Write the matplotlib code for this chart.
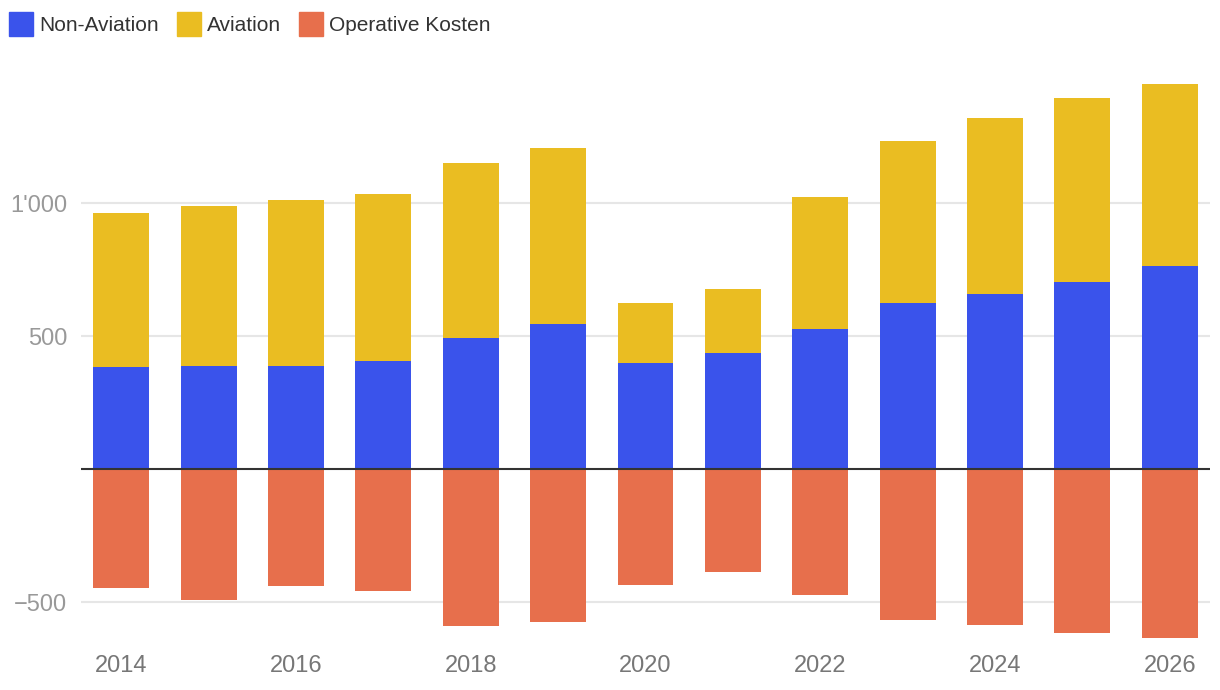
import numpy as np
import matplotlib
matplotlib.use("Agg")
import matplotlib.pyplot as plt
import matplotlib.patches as mpatches

plt.rcParams['font.family'] = ['Liberation Sans', 'DejaVu Sans']

# values
years = [2014, 2015, 2016, 2017, 2018, 2019, 2020, 2021, 2022, 2023, 2024, 2025, 2026]
non_aviation = [385, 389, 389, 408, 494, 547, 400, 438, 528, 623, 657, 702, 762]
aviation = [577, 600, 622, 626, 657, 661, 223, 241, 495, 611, 664, 694, 687]
operative_kosten = [-445, -491, -438, -457, -589, -574, -434, -385, -472, -566, -585, -615, -634]

y_ticks = [-500, 500, 1000]
y_tick_labels = ['\u2212500', '500', "1'000"]
x_ticks = [2014, 2016, 2018, 2020, 2022, 2024, 2026]

c_non = '#3a53eb'
c_avi = '#eabd22'
c_ops = '#e76f4c'

fig = plt.figure(figsize=(12.2, 6.9), dpi=100)
ax = fig.add_axes([0.0664, 0.0652, 0.9254, 0.8334])

x = np.array(years)
w = 0.64
ax.bar(x, non_aviation, width=w, color=c_non, zorder=2)
ax.bar(x, aviation, width=w, bottom=non_aviation, color=c_avi, zorder=2)
ax.bar(x, operative_kosten, width=w, color=c_ops, zorder=2)

for v in y_ticks:
    ax.axhline(v, color='#e6e6e6', lw=1.5, zorder=1)
ax.axhline(0, color='#333333', lw=1.5, zorder=3)

ax.set_xlim(years[0] - 0.46, years[-1] + 0.46)
ax.set_ylim(-660, 1500)
ax.set_yticks(y_ticks)
ax.set_yticklabels(y_tick_labels)
ax.set_xticks(x_ticks)
ax.set_xticklabels([str(t) for t in x_ticks])
ax.tick_params(axis='y', length=0, pad=10, labelsize=17, labelcolor='#999999')
ax.tick_params(axis='x', length=0, pad=7, labelsize=17, labelcolor='#777777')
for s in ax.spines.values():
    s.set_visible(False)

handles = [mpatches.Patch(color=c_non, label='Non-Aviation'),
           mpatches.Patch(color=c_avi, label='Aviation'),
           mpatches.Patch(color=c_ops, label='Operative Kosten')]
leg = fig.legend(handles=handles, loc='upper left', bbox_to_anchor=(9 / 1220, 1 - 12 / 690), ncol=3,
                 frameon=False, fontsize=15, handlelength=1.15, handleheight=1.4,
                 handletextpad=0.3, columnspacing=0.85, borderaxespad=0, borderpad=0)
for t in leg.get_texts():
    t.set_color('#333333')

fig.savefig('out.png', dpi=100)
